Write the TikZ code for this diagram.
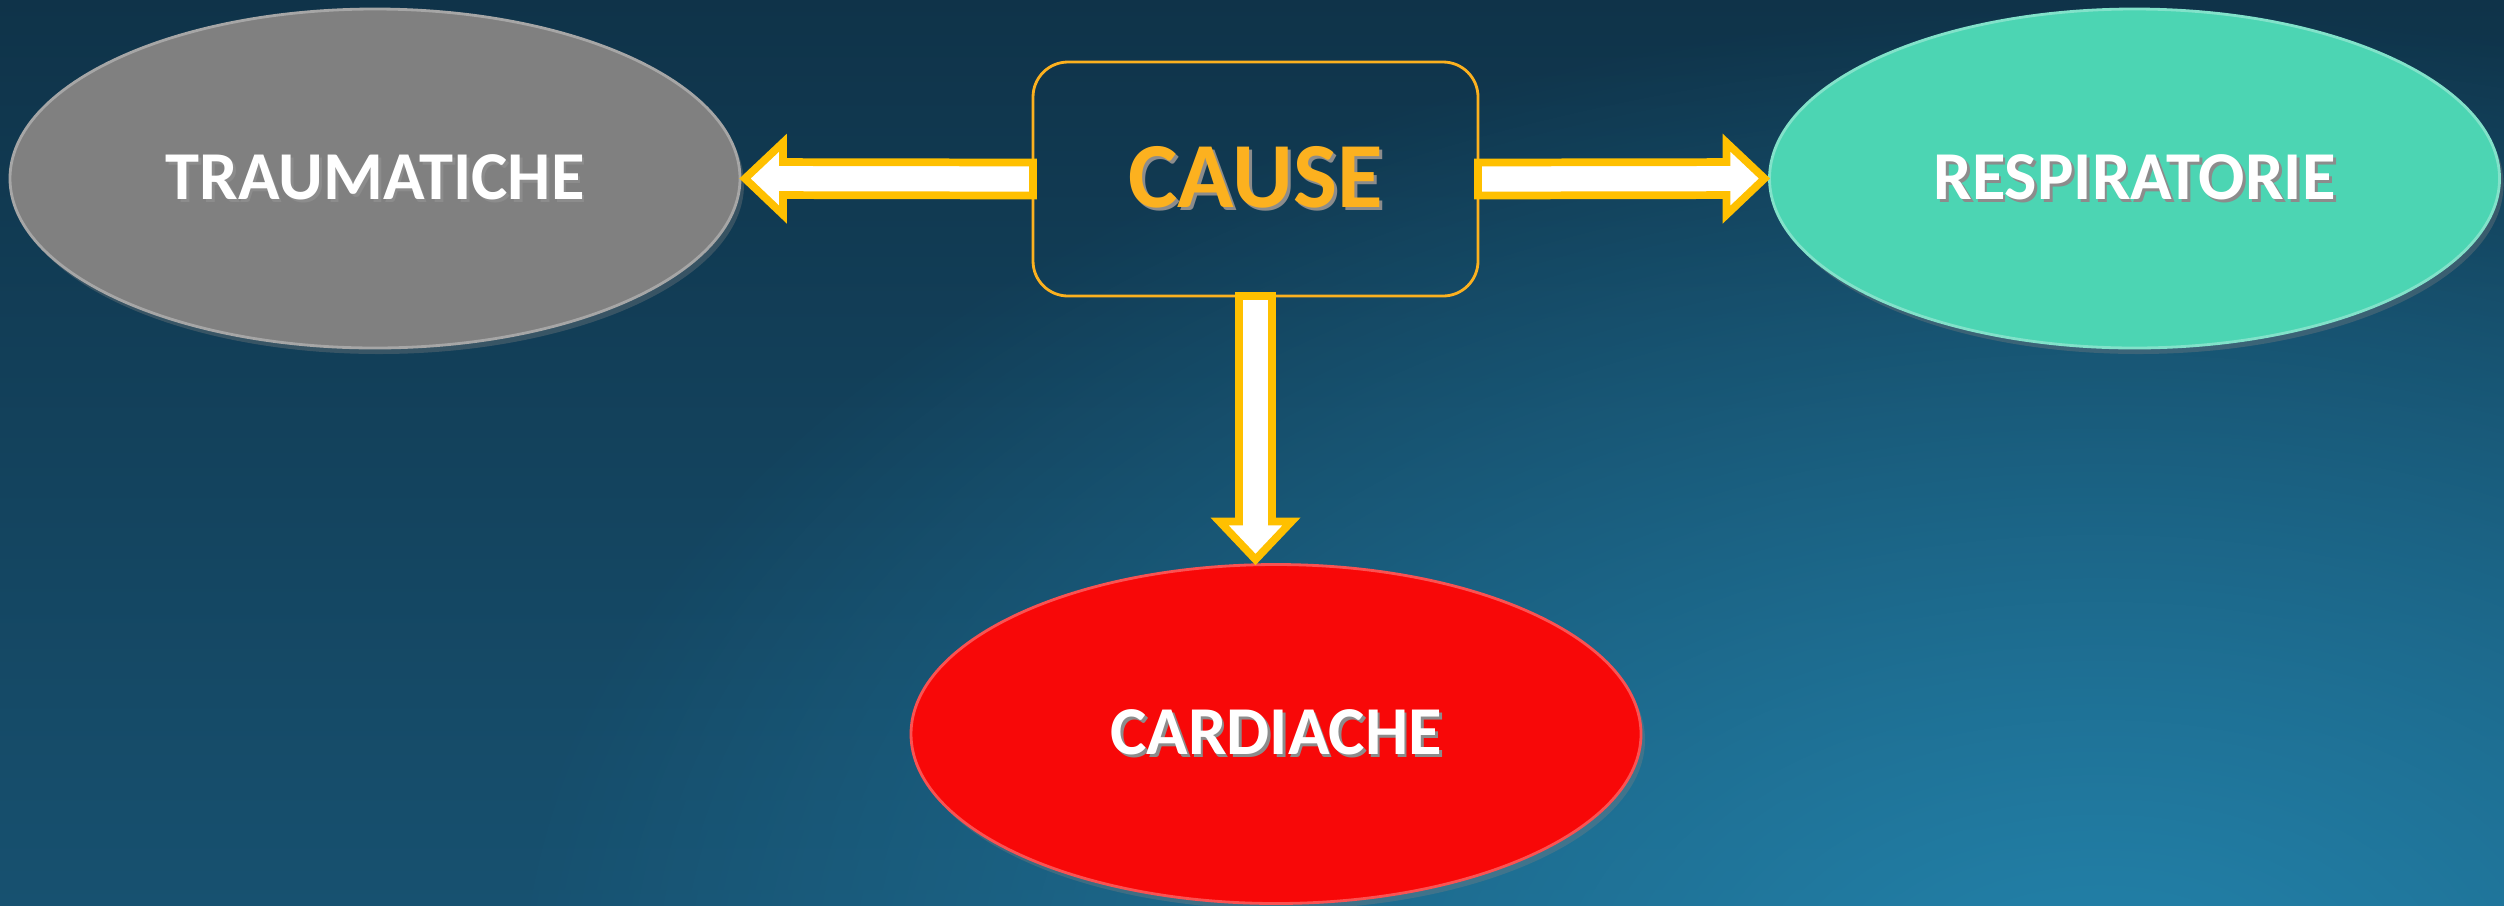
\documentclass[tikz,border=0pt]{standalone}
\usepackage{fontspec}
\setmainfont{Carlito}
\usetikzlibrary{positioning, calc, shapes.geometric, shadows, fadings}
\definecolor{bgtop}{HTML}{0F3349}
\definecolor{bgbottom}{HTML}{175170}
\definecolor{bgglow}{HTML}{2383AB}
\definecolor{causegold}{HTML}{FCB11F}
\definecolor{arrowgold}{HTML}{FFC000}
\definecolor{traumagray}{HTML}{808080}
\definecolor{respteal}{HTML}{4CD5B3}
\definecolor{cardred}{HTML}{F80808}
\tikzfading[name=glowfade, inner color=transparent!0, outer color=transparent!100]
\newcommand{\tshadow}[1]{\makebox[0pt][l]{\hspace{0.8pt}\raisebox{-0.8pt}{\textcolor{black!45}{#1}}}#1}
\newcommand{\blockarrow}[2]{%
  \coordinate (fa-s) at (#1);
  \coordinate (fa-t) at ($(#2)!0.05cm!(#1)$);
  \coordinate (fa-h) at ($(fa-t)!0.38cm!(fa-s)$);
  \draw[fatarrow] ($(fa-s)!0.165cm!90:(fa-t)$) -- ($(fa-h)!0.165cm!90:(fa-t)$)
    -- ($(fa-h)!0.36cm!90:(fa-t)$) -- (fa-t) -- ($(fa-h)!0.36cm!-90:(fa-t)$)
    -- ($(fa-h)!0.165cm!-90:(fa-t)$) -- ($(fa-s)!0.165cm!-90:(fa-t)$) -- cycle;
}
\tikzset{
  bubble/.style={ellipse, fill=#1, draw=#1!70!white, line width=0.8pt,
                 minimum width=7.3cm, minimum height=3.39cm, inner sep=0pt, outer sep=0pt,
                 text=white, font=\fontsize{19.5}{22}\selectfont\bfseries,
                 drop shadow={shadow xshift=0.04cm, shadow yshift=-0.06cm, opacity=0.35}},
  causebox/.style={rectangle, rounded corners=0.35cm, draw=causegold, line width=0.8pt,
                   minimum width=4.45cm, minimum height=2.34cm, outer sep=0pt,
                   text=causegold, font=\fontsize{26.5}{30}\selectfont\bfseries},
  fatarrow/.style={draw=arrowgold, fill=white, line width=2.2pt, line join=miter},
}

\begin{document}
\begin{tikzpicture}
  \useasboundingbox (0,0) rectangle (25.04,9.05);
  % background
  \begin{scope}
    \clip (0,0) rectangle (25.04,9.05);
    \shade[top color=bgtop, bottom color=bgbottom] (0,0) rectangle (25.04,9.05);
    \fill[bgglow, path fading=glowfade] (21,-1) ellipse (16cm and 10cm);
  \end{scope}

  \node[causebox] (cause) at (12.555,7.26) {\tshadow{CAUSE}};
  \node[bubble=traumagray] (trauma) at (3.75,7.265) {\tshadow{TRAUMATICHE}};
  \node[bubble=respteal] (resp) at (21.345,7.265) {\tshadow{RESPIRATORIE}};
  \node[bubble=cardred] (cardiac) at (12.76,1.71) {\tshadow{CARDIACHE}};

  \blockarrow{cause.west}{trauma.east}
  \blockarrow{cause.east}{resp.west}
  \blockarrow{cause.south}{cause.south |- cardiac.north}
\end{tikzpicture}
\end{document}
